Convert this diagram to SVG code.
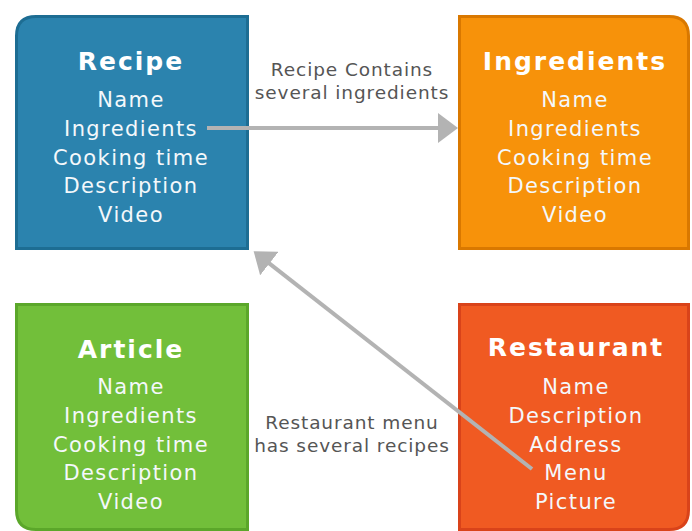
<svg xmlns="http://www.w3.org/2000/svg" width="692" height="531" viewBox="0 0 692 531">
  <style>
    .title { font-family: "DejaVu Sans", sans-serif; font-weight: bold; font-size: 25px; letter-spacing: 2px; fill: #ffffff; text-anchor: middle; }
    .field { font-family: "DejaVu Sans", sans-serif; font-size: 21px; letter-spacing: 1.4px; fill: #f4f8fb; text-anchor: middle; }
    .label { font-family: "DejaVu Sans", sans-serif; font-size: 18.5px; letter-spacing: 0.9px; fill: #555555; text-anchor: middle; }
    .link { fill: none; stroke: #b3b3b3; stroke-width: 4; }
  </style>
  <defs>
    <marker id="head" viewBox="0 0 20 30" refX="1" refY="15" markerWidth="20" markerHeight="30" markerUnits="userSpaceOnUse" orient="auto">
      <path d="M0,0 L20,15 L0,30 Z" fill="#b3b3b3"/>
    </marker>
  </defs>
  <rect width="692" height="531" fill="#ffffff"/>

  <!-- Recipe: rounded top-left corner -->
  <g id="recipe">
    <path d="M16.5,248.5 V36 Q16.5,16.5 36,16.5 H247.5 V248.5 Z" fill="#2b83ae" stroke="#1d6d93" stroke-width="3"/>
    <text class="title" x="131" y="70">Recipe</text>
    <text class="field" x="131" y="107">Name</text>
    <text class="field" x="131" y="136">Ingredients</text>
    <text class="field" x="131" y="165">Cooking time</text>
    <text class="field" x="131" y="193">Description</text>
    <text class="field" x="131" y="222">Video</text>
  </g>

  <!-- Ingredients: rounded top-right corner -->
  <g id="ingredients">
    <path d="M459.5,248.5 V16.5 H669 Q688.5,16.5 688.5,36 V248.5 Z" fill="#f7920a" stroke="#d97800" stroke-width="3"/>
    <text class="title" x="575" y="70">Ingredients</text>
    <text class="field" x="575" y="107">Name</text>
    <text class="field" x="575" y="136">Ingredients</text>
    <text class="field" x="575" y="165">Cooking time</text>
    <text class="field" x="575" y="193">Description</text>
    <text class="field" x="575" y="222">Video</text>
  </g>

  <!-- Article: rounded bottom-left corner -->
  <g id="article">
    <path d="M16.5,304.5 H247.5 V529.5 H36 Q16.5,529.5 16.5,510 Z" fill="#72bf3a" stroke="#5ba72a" stroke-width="3"/>
    <text class="title" x="131" y="358">Article</text>
    <text class="field" x="131" y="394">Name</text>
    <text class="field" x="131" y="423">Ingredients</text>
    <text class="field" x="131" y="452">Cooking time</text>
    <text class="field" x="131" y="480">Description</text>
    <text class="field" x="131" y="509">Video</text>
  </g>

  <!-- Restaurant: rounded bottom-right corner -->
  <g id="restaurant">
    <path d="M459.5,304.5 H688.5 V510 Q688.5,529.5 669,529.5 H459.5 Z" fill="#f05a22" stroke="#d9431a" stroke-width="3"/>
    <text class="title" x="576" y="356">Restaurant</text>
    <text class="field" x="576" y="394">Name</text>
    <text class="field" x="576" y="423">Description</text>
    <text class="field" x="576" y="452">Address</text>
    <text class="field" x="576" y="480">Menu</text>
    <text class="field" x="576" y="509">Picture</text>
  </g>

  <!-- Connectors and their captions -->
  <g id="connectors">
    <path class="link" d="M207,128 H439" marker-end="url(#head)"/>
    <text class="label" x="352" y="76">Recipe Contains</text>
    <text class="label" x="352" y="99">several ingredients</text>

    <path class="link" d="M532,469 L268.6,262.9" marker-end="url(#head)"/>
    <text class="label" x="352" y="429">Restaurant menu</text>
    <text class="label" x="352" y="452">has several recipes</text>
  </g>
</svg>
